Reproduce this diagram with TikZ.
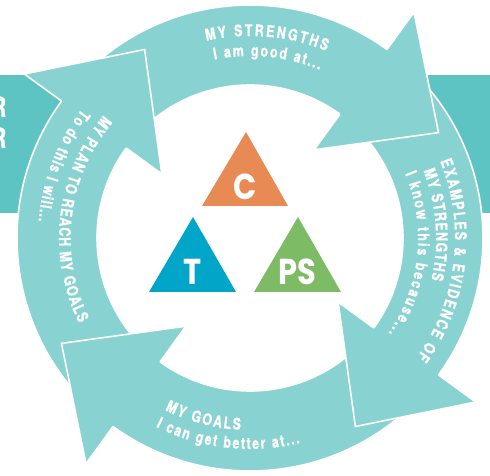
\documentclass[tikz,border=0pt]{standalone}
\usepackage{fontspec}
\usetikzlibrary{decorations.text}
\newfontfamily\arcfont[FakeStretch=0.78, BoldFeatures={FakeBold=0.8}]{TeX Gyre Heros}
\newfontfamily\trifont[FakeStretch=0.85]{Poppins}
\definecolor{arrowteal}{HTML}{88D3D1}
\definecolor{boxteal}{HTML}{5EC4C3}
\definecolor{triorange}{HTML}{E88A53}
\definecolor{triblue}{HTML}{00A5C8}
\definecolor{trigreen}{HTML}{7DBB65}
\newcommand\arcstyle{\arcfont\bfseries\fontsize{16}{18}\selectfont}
\tikzset{
  bodyfill/.style={fill=arrowteal, draw=white, line width=1.6pt},
  headfill/.style={fill=arrowteal},
  headedge/.style={draw=white, line width=1.6pt, line join=miter},
  arctext/.style={decorate, decoration={text along path, text align=fit to path, text color=white, text={|\arcstyle|#1}}},
  trilabel/.style={text=white, font=\trifont\bfseries\fontsize{36}{36}\selectfont, inner sep=0pt},
  boxletter/.style={text=white, font=\arcfont\bfseries\fontsize{28}{28}\selectfont, inner sep=0pt, anchor=base east}
}
\begin{document}
\begin{tikzpicture}[x=1pt,y=1pt]
\useasboundingbox (0,0) rectangle (490,476);
% background boxes
\fill[boxteal] (0,263) rectangle (62,401);
\fill[boxteal] (428,263) rectangle (490,401);
\node[boxletter] (r1) at (6.5,359) {R};
\node[boxletter] (r2) at (6.5,328) {R};
\begin{scope}[shift={(250,238)}]
% arrow bodies
\foreach \b in {54,-36,-126,144} {
  \path[bodyfill] ({\b+86}:233) arc[start angle={\b+86}, end angle={\b-3}, radius=233]
     -- ({\b-3}:153) arc[start angle={\b-3}, end angle={\b+86}, radius=153] -- cycle;
}
% arrow heads
\foreach \b in {54,-36,-126,144} {
  \path[headfill] (\b:233) -- (\b:279) -- ({\b-24.8}:216) -- (\b:109) -- (\b:153) -- cycle;
  \path[headedge] (\b:233) -- (\b:279) -- ({\b-24.8}:216) -- (\b:109) -- (\b:153);
}
% texts: top
\path[arctext={MY STRENGTHS}] (102.5:202) arc[start angle=102.5, end angle=67.8, radius=202];
\path[arctext={I am good at...}] (101.3:182) arc[start angle=101.3, end angle=67.5, radius=182];
% right
\path[arctext={EXAMPLES {\&} EVIDENCE OF}] (22:205) arc[start angle=22, end angle=-35.5, radius=205];
\path[arctext={MY STRENGTHS}] (21.2:186) arc[start angle=21.2, end angle=-13, radius=186];
\path[arctext={I know this because...}] (22.5:168) arc[start angle=22.5, end angle=-34.5, radius=168];
% bottom
\path[arctext={MY GOALS}] (-116.3:192) arc[start angle=-116.3, end angle=-92.8, radius=192];
\path[arctext={I can get better at...}] (-116.5:211) arc[start angle=-116.5, end angle=-76.3, radius=211];
% left
\path[arctext={MY PLAN TO REACH MY GOALS}] (140:191) arc[start angle=140, end angle=206.5, radius=191];
\path[arctext={To do this I will...}] (142.5:212) arc[start angle=142.5, end angle=175.5, radius=212];
\end{scope}
% triangles
\fill[triorange] (202,270) -- (288,270) -- (246,344) -- cycle;
\fill[triblue] (149,184) -- (236,184) -- (193,259) -- cycle;
\fill[trigreen] (254,184) -- (341,184) -- (298,259) -- cycle;
\node[trilabel] (c) at (245,289) {C};
\node[trilabel] (t) at (192.5,204.5) {T};
\node[trilabel] (ps) at (297.5,204.5) {PS};
\end{tikzpicture}
\end{document}
